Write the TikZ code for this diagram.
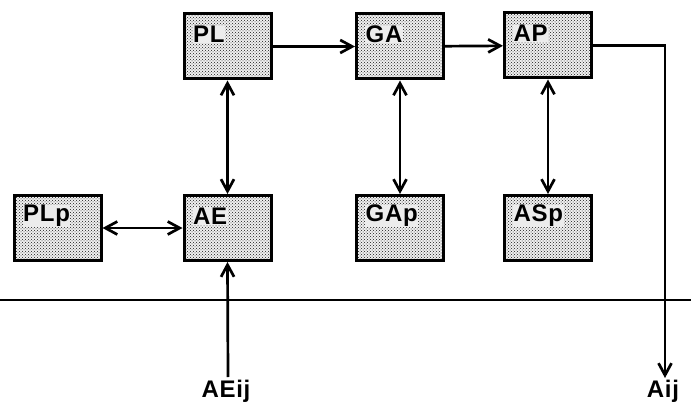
\documentclass[tikz,border=0pt]{standalone}
\usepackage{fontspec}
\setmainfont{Liberation Sans}
\usetikzlibrary{arrows.meta,patterns}
\begin{document}
\begin{tikzpicture}[x=1pt,y=-1pt,
  blk/.style={draw,line width=3pt,minimum width=87pt,minimum height=65pt,
    preaction={fill=gray!12},pattern=crosshatch dots,pattern color=black!90,inner sep=0pt},
  lbl/.style={font=\fontsize{24}{24}\selectfont\bfseries\addfontfeature{LetterSpace=3},anchor=west,inner sep=0.5pt,fill=gray!15},
  tlbl/.style={font=\fontsize{24}{24}\selectfont\bfseries\addfontfeature{LetterSpace=3},inner sep=0pt},
  con/.style={line width=2.7pt},
  tip/.style={-{Straight Barb[length=12pt,width=13pt,line width=2.7pt]}},
  dtip/.style={{Straight Barb[length=12pt,width=13pt,line width=2.7pt]}-{Straight Barb[length=12pt,width=13pt,line width=2.7pt]}}]
\useasboundingbox (0,0) rectangle (691,412);
\node[blk] (PL)  at (227.5,46.5) {};
\node[blk] (GA)  at (400,46.5) {};
\node[blk] (AP)  at (548,45.5) {};
\node[blk] (PLp) at (57.5,228) {};
\node[blk] (AE)  at (227.5,228) {};
\node[blk] (GAp) at (400,228) {};
\node[blk] (ASp) at (548,228) {};
\node[lbl] (tPL)  at ([shift={(10,22)}]PL.north west) {PL};
\node[lbl] (tGA)  at ([shift={(10,22)}]GA.north west) {GA};
\node[lbl] (tAP)  at ([shift={(10,22)}]AP.north west) {AP};
\node[lbl] (tPLp) at ([shift={(10,22)}]PLp.north west) {PLp};
\node[lbl] (tAE)  at ([shift={(10,22)}]AE.north west) {AE};
\node[lbl] (tGAp) at ([shift={(10,22)}]GAp.north west) {GAp};
\node[lbl] (tASp) at ([shift={(10,22)}]ASp.north west) {ASp};
\coordinate (L1) at (0,300);
\coordinate (L2) at (691,300);
\draw[line width=2.5pt] (L1) -- (L2);
\node[tlbl] (AEij) at (226,391) {AEij};
\node[tlbl] (Aij) at (663,391) {Aij};
\coordinate (AEin) at (228,377);
\coordinate (corner) at (665,45.5);
\coordinate (Aout) at (665,378);
\draw[con,tip] (PL) -- (GA);
\draw[con,tip] (GA) -- (AP);
\draw[con,tip] (AP.east) -- (corner) -- (Aout);
\draw[con,dtip] (PL) -- (AE);
\draw[con,dtip] (GA) -- (GAp);
\draw[con,dtip] (AP) -- (ASp);
\draw[con,dtip] (PLp) -- (AE);
\draw[con,tip] (AEin) -- (AE.south);
\end{tikzpicture}
\end{document}
